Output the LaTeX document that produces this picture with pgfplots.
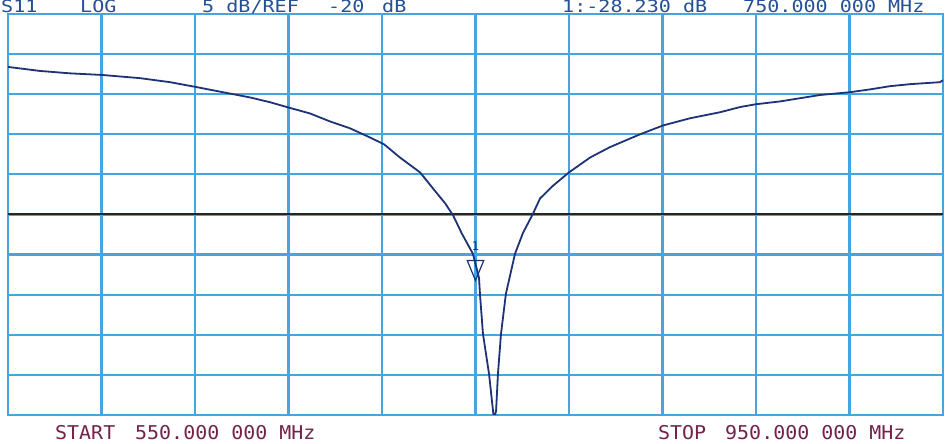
\documentclass[border=0pt]{standalone}
\usepackage{pgfplots}
\pgfplotsset{compat=1.18}
\usepackage{fontspec}
\setmainfont{DejaVu Sans}
\newfontfamily\plotfont{DejaVu Sans Mono}
\definecolor{gridblue}{RGB}{70,165,222}
\definecolor{trace}{RGB}{30,50,120}
\definecolor{toptext}{RGB}{35,80,150}
\definecolor{bottext}{RGB}{115,35,75}
\begin{document}
\begin{tikzpicture}[x=1pt,y=1pt]
\useasboundingbox (0,0) rectangle (947,444);
\fill[white] (0,0) rectangle (947,444);
\begin{axis}[
  at={(8pt,29pt)}, anchor=south west,
  width=935pt, height=401pt, scale only axis,
  xmin=550, xmax=950, ymin=-45, ymax=5,
  xtick={550,590,630,670,710,750,790,830,870,910,950},
  ytick={-45,-40,-35,-30,-25,-20,-15,-10,-5,0,5},
  xticklabels={}, yticklabels={},
  major tick length=0pt,
  grid=major,
  major grid style={gridblue, line width=2.2pt},
  axis line style={gridblue, line width=2.6pt},
]
\addplot[black!85, line width=2pt] coordinates {(550,-20) (950,-20)};
\addplot[trace, line width=1.8pt] coordinates {
(550,-1.6) (563.7,-2.1) (576.5,-2.4) (590.2,-2.6) (606.5,-3.0) (619.3,-3.5)
(630.4,-4.1) (642.8,-4.8) (653.5,-5.4) (662.1,-6.0) (671.1,-6.75) (679.2,-7.4)
(687.8,-8.4) (696.3,-9.25) (704.9,-10.4) (710.9,-11.25) (717.7,-12.9) (726.3,-14.75)
(731.8,-16.75) (737.0,-18.6) (740.4,-20.1) (744.2,-22.4) (748.9,-24.9) (751.5,-27.9)
(751.9,-29.9) (753.2,-34.9) (755.8,-39.9) (757.5,-44.5) (757.9,-45.5) (758.8,-44.5)
(759.6,-39.9) (760.9,-34.9) (763.0,-29.9) (766.9,-24.9) (770.3,-22.3) (774.6,-19.9)
(777.6,-18.0) (783.2,-16.4) (790.0,-14.75) (799.0,-12.9) (807.5,-11.6) (820.4,-10.0)
(830.2,-8.9) (841.8,-8.0) (854.6,-7.25) (863.2,-6.6) (870.0,-6.25) (880.3,-5.9)
(888.8,-5.5) (897.4,-5.1) (910.2,-4.75) (918.8,-4.4) (927.3,-4.0) (935.9,-3.75)
(948.7,-3.5) (950,-3.25)
};
\addplot[only marks, mark=triangle, mark size=9.5pt,
  mark options={trace, line width=1.2pt, fill=none, yshift=13.3pt, rotate=180, yscale=1.4}]
  coordinates {(750,-28.23)};
\node[font=\plotfont\fontsize{12}{12}\selectfont, text=trace, inner sep=0pt]
  at (axis cs:750,-28.23) [yshift=34pt] {1};
\end{axis}
\begin{scope}[font=\plotfont\fontsize{17}{17}\selectfont]
\node[anchor=base west, inner sep=0pt, text=toptext, xscale=1.18] at (1,431.2) {S11};
\node[anchor=base west, inner sep=0pt, text=toptext, xscale=1.18] at (80,431.2) {LOG};
\node[anchor=base west, inner sep=0pt, text=toptext, xscale=1.18] at (202,431.2) {5 dB/REF};
\node[anchor=base west, inner sep=0pt, text=toptext, xscale=1.18] at (328,431.2) {-20};
\node[anchor=base west, inner sep=0pt, text=toptext, xscale=1.18] at (382,431.2) {dB};
\node[anchor=base west, inner sep=0pt, text=toptext, xscale=1.18] at (562,431.2) {1:-28.230 dB};
\node[anchor=base west, inner sep=0pt, text=toptext, xscale=1.18] at (743,431.2) {750.000 000 MHz};
\end{scope}
\begin{scope}[font=\plotfont\fontsize{19}{19}\selectfont]
\node[anchor=base west, inner sep=0pt, text=bottext, xscale=1.05] at (55,5) {START};
\node[anchor=base west, inner sep=0pt, text=bottext, xscale=1.05] at (135,5) {550.000 000 MHz};
\node[anchor=base west, inner sep=0pt, text=bottext, xscale=1.05] at (658,5) {STOP};
\node[anchor=base west, inner sep=0pt, text=bottext, xscale=1.05] at (725,5) {950.000 000 MHz};
\end{scope}
\end{tikzpicture}
\end{document}
